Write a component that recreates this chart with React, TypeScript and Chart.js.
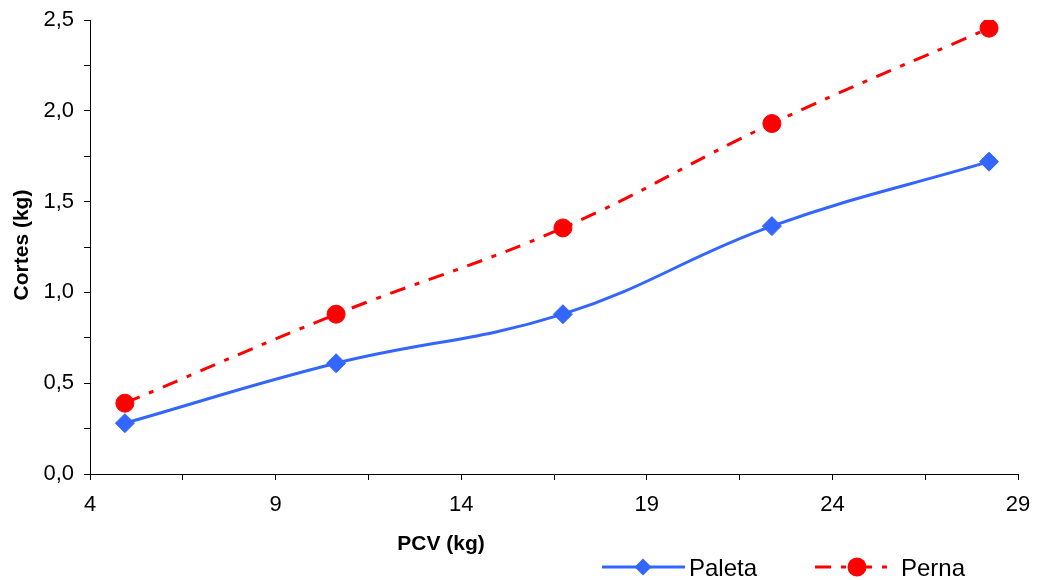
import React, { useEffect, useRef } from "react";
import { Chart, registerables } from "chart.js";

Chart.register(...registerables);

const pcvValues = [4.94, 10.63, 16.74, 22.37, 28.22];
const paletaValues = [0.28, 0.61, 0.88, 1.365, 1.72];
const pernaValues = [0.39, 0.88, 1.355, 1.93, 2.455];
const seriesNames = ["Paleta", "Perna"];
const xTitle = "PCV (kg)";
const yTitle = "Cortes (kg)";

const BLUE = "#3366ff";
const RED = "#ff0000";
const FONT = "'Liberation Sans', Arial, sans-serif";
const DASH = [16, 10, 5, 10];

const overlayPlugin = {
  id: "overlay",
  afterDraw(chart: any) {
    const ctx = chart.ctx;
    ctx.save();
    ctx.fillStyle = "#000";
    // y title
    ctx.font = `bold 21px ${FONT}`;
    ctx.textAlign = "center";
    ctx.textBaseline = "middle";
    ctx.save();
    ctx.translate(22, 245);
    ctx.rotate(-Math.PI / 2);
    ctx.fillText(yTitle, 0, 0);
    ctx.restore();
    // x title
    ctx.textBaseline = "alphabetic";
    ctx.fillText(xTitle, 441, 550);

    // legend
    const ly = 567;
    // Paleta
    ctx.strokeStyle = BLUE;
    ctx.lineWidth = 3;
    ctx.setLineDash([]);
    ctx.beginPath();
    ctx.moveTo(602, ly);
    ctx.lineTo(685, ly);
    ctx.stroke();
    ctx.fillStyle = BLUE;
    ctx.beginPath();
    const d = 8.5;
    ctx.moveTo(643 - d, ly);
    ctx.lineTo(643, ly - d);
    ctx.lineTo(643 + d, ly);
    ctx.lineTo(643, ly + d);
    ctx.closePath();
    ctx.fill();
    // Perna
    ctx.strokeStyle = RED;
    ctx.setLineDash(DASH);
    ctx.beginPath();
    ctx.moveTo(815, ly);
    ctx.lineTo(893, ly);
    ctx.stroke();
    ctx.setLineDash([]);
    ctx.fillStyle = RED;
    ctx.beginPath();
    ctx.arc(857, ly, 9.5, 0, Math.PI * 2);
    ctx.fill();
    // texts
    ctx.fillStyle = "#000";
    ctx.font = `24px ${FONT}`;
    ctx.textAlign = "left";
    ctx.textBaseline = "alphabetic";
    ctx.fillText(seriesNames[0], 689, 576);
    ctx.fillText(seriesNames[1], 901, 576);
    ctx.restore();
  },
};

export default function App() {
  const ref = useRef<HTMLCanvasElement | null>(null);
  useEffect(() => {
    if (!ref.current) return;
    const chart = new Chart(ref.current, {
      type: "line",
      data: {
        datasets: [
          {
            label: seriesNames[0],
            data: pcvValues.map((x, i) => ({ x, y: paletaValues[i] })),
            borderColor: BLUE,
            backgroundColor: BLUE,
            borderWidth: 3,
            pointStyle: "rectRot",
            pointRadius: 9.5,
            pointBorderWidth: 1,
            pointBackgroundColor: BLUE,
            pointBorderColor: BLUE,
            tension: 0.4,
            fill: false,
          },
          {
            label: seriesNames[1],
            data: pcvValues.map((x, i) => ({ x, y: pernaValues[i] })),
            borderColor: RED,
            backgroundColor: RED,
            borderWidth: 3,
            borderDash: DASH,
            pointStyle: "circle",
            pointRadius: 9,
            pointBorderWidth: 1,
            pointBackgroundColor: RED,
            pointBorderColor: RED,
            tension: 0.4,
            fill: false,
          },
        ],
      },
      options: {
        animation: false,
        responsive: false,
        layout: { padding: { top: 20, right: 22, left: 0, bottom: 0 } },
        plugins: {
          legend: { display: false },
          tooltip: { enabled: false },
        },
        scales: {
          x: {
            type: "linear",
            min: 4,
            max: 29,
            grid: {
              display: true,
              drawOnChartArea: false,
              drawTicks: true,
              tickLength: 6,
              color: "#000",
              lineWidth: 1,
            },
            border: { display: true, color: "#000", width: 1 },
            ticks: {
              stepSize: 2.5,
              autoSkip: false,
              maxRotation: 0,
              padding: 12,
              color: "#000",
              font: { family: FONT, size: 22 },
              callback: (v: any) => {
                const n = Number(v);
                return Math.abs(((n - 4) / 5) - Math.round((n - 4) / 5)) < 1e-6 ? String(n) : "";
              },
            },
            afterFit: (s: any) => {
              s.height = 106;
              s.paddingLeft = 0;
              s.paddingRight = 0;
            },
          },
          y: {
            min: 0,
            max: 2.5,
            grid: {
              display: true,
              drawOnChartArea: false,
              drawTicks: true,
              tickLength: 6,
              color: "#000",
              lineWidth: 1,
            },
            border: { display: true, color: "#000", width: 1 },
            ticks: {
              stepSize: 0.25,
              autoSkip: false,
              padding: 10,
              color: "#000",
              font: { family: FONT, size: 22 },
              callback: (v: any) => {
                const n = Number(v);
                return Math.abs(n / 0.5 - Math.round(n / 0.5)) < 1e-6 ? n.toFixed(1).replace(".", ",") : "";
              },
            },
            afterFit: (s: any) => {
              s.width = 90;
              s.paddingTop = 0;
              s.paddingBottom = 0;
            },
          },
        },
      },
      plugins: [overlayPlugin],
    });
    return () => chart.destroy();
  }, []);
  return (
    <div style={{ position: "absolute", left: 0, top: 0, width: 1040, height: 580, background: "#fff" }}>
      <canvas ref={ref} width={1040} height={580} style={{ display: "block" }} />
    </div>
  );
}
